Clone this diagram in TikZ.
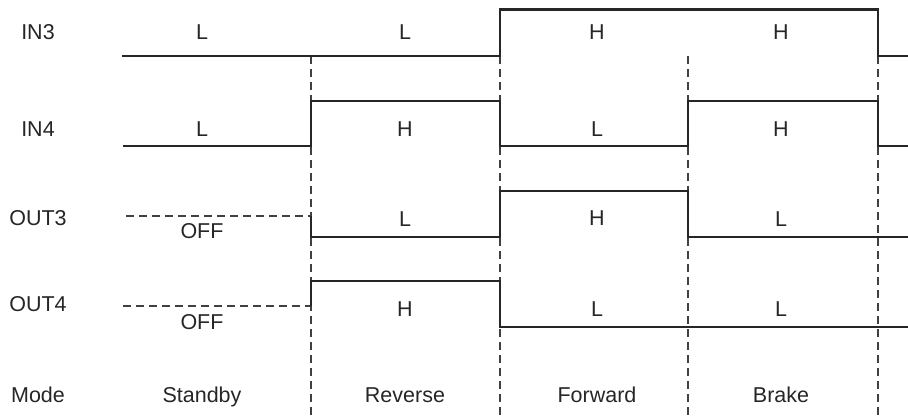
\documentclass[tikz,border=0pt]{standalone}
\usepackage{fontspec}
\setmainfont{Liberation Sans}
\begin{document}
\begin{tikzpicture}[x=1pt,y=-1pt,line join=miter]
    \tikzstyle{signal}=[line width=2.4pt,draw=black!85]
    \tikzstyle{grid}=[line width=1.2pt,dash pattern=on 8pt off 5pt,draw=black!75]
    \tikzstyle{level}=[anchor=base,inner sep=0pt,text=black!85,font=\fontsize{21.5}{25}\selectfont]
    \tikzstyle{rowname}=[style=level]

    \useasboundingbox (0,0) rectangle (908,416);

    % mode boundaries
    \foreach \x in {311,500,688,878}
        \draw[grid] (\x,56) -- (\x,416);

    % waveforms
    \draw[signal] (122,56) -- (500,56) -- (500,9.5) -- (878,9.5) -- (878,56) -- (908,56);
    \draw[signal] (123,146) -- (311,146) -- (311,101) -- (500,101) -- (500,146)
        -- (688,146) -- (688,101) -- (878,101) -- (878,146) -- (908,146);
    \draw[grid] (126,216) -- (311,216);
    \draw[signal] (311,216) -- (311,237) -- (500,237) -- (500,191) -- (688,191)
        -- (688,237) -- (908,237);
    \draw[grid] (123,306) -- (311,306);
    \draw[signal] (311,306) -- (311,281) -- (500,281) -- (500,327) -- (908,327);

    % row names
    \node[rowname] (in3)  at (38,39)  {IN3};
    \node[rowname] (in4)  at (38,136) {IN4};
    \node[rowname] (out3) at (38,225) {OUT3};
    \node[rowname] (out4) at (38,311) {OUT4};
    \node[rowname] (mode) at (38,402) {Mode};

    % levels
    \node[level] (in3a) at (202,39) {L};
    \node[level] (in3b) at (405,39) {L};
    \node[level] (in3c) at (597,39) {H};
    \node[level] (in3d) at (781,39) {H};

    \node[level] (in4a) at (202,136) {L};
    \node[level] (in4b) at (405,136) {H};
    \node[level] (in4c) at (597,136) {L};
    \node[level] (in4d) at (781,136) {H};

    \node[level] (out3a) at (202,238) {OFF};
    \node[level] (out3b) at (405,226) {L};
    \node[level] (out3c) at (597,225) {H};
    \node[level] (out3d) at (781,226) {L};

    \node[level] (out4a) at (202,329) {OFF};
    \node[level] (out4b) at (405,316) {H};
    \node[level] (out4c) at (597,316) {L};
    \node[level] (out4d) at (781,316) {L};

    \node[level] (standby) at (202,402) {Standby};
    \node[level] (reverse) at (405,402) {Reverse};
    \node[level] (forward) at (597,402) {Forward};
    \node[level] (brake)   at (781,402) {Brake};
\end{tikzpicture}
\end{document}
